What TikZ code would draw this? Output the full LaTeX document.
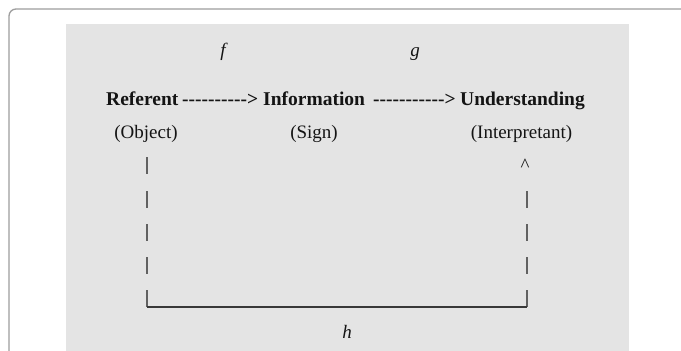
\documentclass[tikz,border=0pt]{standalone}
\usepackage{fontspec}
\setmainfont{Liberation Serif}[Ligatures=TeXOff]
\begin{document}
\begin{tikzpicture}[x=1pt,y=-1pt,
  txt/.style={inner sep=0pt,font=\fontsize{19}{22}\selectfont,text=black!92},
  btxt/.style={inner sep=0pt,font=\fontsize{19.5}{22}\selectfont\bfseries,text=black!92,anchor=base west},
  bartick/.style={draw=black!62,line width=1.1pt},
  baseline/.style={draw=black!78,line width=1.2pt}]
\useasboundingbox (0,0) rectangle (681,351);
\clip (0,0) rectangle (681,351);
\fill[white] (0,0) rectangle (681,351);
\draw[draw=black!38,line width=1.3pt,rounded corners=7pt] (9,380) |- (720,9);
\fill[black!10.5] (66,24) rectangle (629,380);
% labels of maps
\node[txt,anchor=base] (f) at (223,56) {\itshape f};
\node[txt,anchor=base] (g) at (415,56) {\itshape g};
% main row
\node[btxt] (ref) at (106,105) {Referent};
\node[btxt] (d1) at (182,105) {---------->};
\node[btxt] (inf) at (263,105) {Information};
\node[btxt] (d2) at (373,105) {----------->};
\node[btxt] (und) at (460,105) {Understanding};
\node[txt,anchor=base] (obj) at (146,138) {(Object)};
\node[txt,anchor=base] (sign) at (314,138) {(Sign)};
\node[txt,anchor=base] (interp) at (521.5,138) {(Interpretant)};
\node[txt,anchor=base] (caret) at (525,171) {\^{}};
\node[txt,anchor=base] (h) at (347,338) {\itshape h};
% connector
\coordinate (lt) at (147,157);
\coordinate (lb) at (147,307);
\coordinate (rb) at (527,307);
\coordinate (rt) at (527,191);
\foreach \y in {157,191,224,257,290}{\draw[bartick] (147,\y) -- ++(0,17);}
\foreach \y in {191,224,257,290}{\draw[bartick] (527,\y) -- ++(0,17);}
\draw[baseline] (lb) -- (rb);
\end{tikzpicture}
\end{document}
